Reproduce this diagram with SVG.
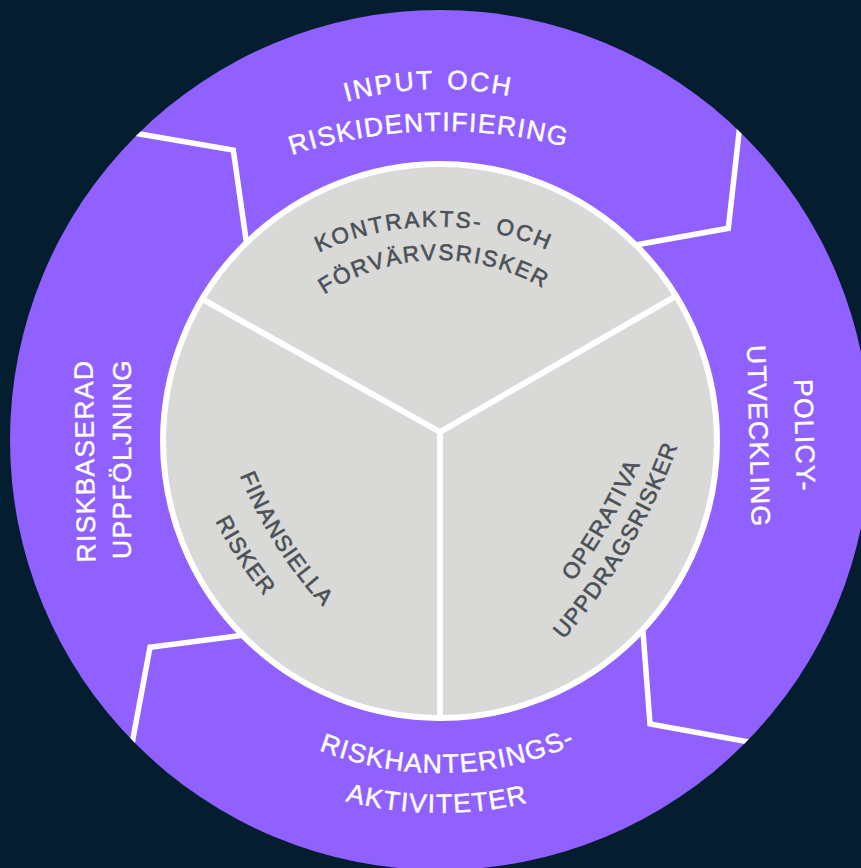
<svg xmlns="http://www.w3.org/2000/svg" width="861" height="868" viewBox="0 0 861 868">
<defs>
<style>
.out{font-family:"Liberation Sans",Arial,sans-serif;font-size:26.5px;fill:#ffffff;stroke:#ffffff;stroke-width:0.45px;letter-spacing:1.3px}
.in{font-family:"Liberation Sans",Arial,sans-serif;font-size:22.5px;fill:#4b5157;stroke:#4b5157;stroke-width:0.6px;letter-spacing:1.2px}
.sep{fill:none;stroke:#ffffff;stroke-width:5.5;stroke-linejoin:miter}
.div{stroke:#ffffff;stroke-width:6;fill:none}
</style>
<clipPath id="ringclip"><circle cx="440" cy="440" r="430"/></clipPath>
<path id="p-input" d="M205.6,178.7 A351,351 0 0 1 656.6,163.8"/>
<path id="p-riskid" d="M188.5,203.3 A484,484 0 0 1 672.3,188.8"/>
<path id="p-kontr" d="M257,292.6 A275.5,275.5 0 0 1 611.2,289.4"/>
<path id="p-forv" d="M288.8,324.6 A207,207 0 0 1 581.5,316.9"/>
<path id="p-riskh" d="M232.2,700.2 A333,333 0 0 0 660.2,689.8"/>
<path id="p-aktiv" d="M250.9,761.5 A373,373 0 0 0 623.9,764.5"/>
<path id="p-finans" d="M211,367.1 A437.8,437.8 0 0 0 409.8,679.2"/>
<path id="p-risker" d="M169.9,380.2 A444.8,444.8 0 0 0 376.3,694.4"/>
<path id="p-oper" d="M457.9,707.3 A684.8,684.8 0 0 0 690,300.4"/>
<path id="p-uppdr" d="M473.7,724.2 A616.8,616.8 0 0 0 708.1,325.9"/>
</defs>
<rect width="861" height="868" fill="#041e2f"/>
<g id="outer-ring">
<circle cx="440" cy="440" r="430" fill="#9061ff"/>
</g>
<g id="connectors">
<g clip-path="url(#ringclip)">
<polyline class="sep" points="125,131.5 233.3,150 247.5,250"/>
<polyline class="sep" points="741,115 728.3,228.3 630,246"/>
<polyline class="sep" points="245,635 150,647.3 129,760"/>
<polyline class="sep" points="642.5,625 650,724 765,745"/>
</g>
</g>
<g id="inner-circle">
<circle cx="440" cy="441" r="277" fill="#d9d9d7"/>
</g>
<g id="dividers">
<line class="div" x1="440" y1="432" x2="202.2" y2="299"/>
<line class="div" x1="440" y1="432" x2="676" y2="296"/>
<line class="div" x1="440" y1="432" x2="440" y2="718"/>
<circle cx="440" cy="441" r="277" fill="none" stroke="#ffffff" stroke-width="6"/>
</g>
<g id="input-riskidentifiering">
<text class="out" text-anchor="middle" style="letter-spacing:2px" word-spacing="3"><textPath href="#p-input" startOffset="50%">INPUT OCH</textPath></text>
<text class="out" text-anchor="middle"><textPath href="#p-riskid" startOffset="50%">RISKIDENTIFIERING</textPath></text>
</g>
<g id="policyutveckling">
<text class="out" text-anchor="middle" transform="translate(795.5,435.5) rotate(88.5)">POLICY-</text>
<text class="out" text-anchor="middle" transform="translate(749.5,436.5) rotate(88.5)">UTVECKLING</text>
</g>
<g id="riskhanteringsaktiviteter">
<text class="out" text-anchor="middle"><textPath href="#p-riskh" startOffset="50%">RISKHANTERINGS-</textPath></text>
<text class="out" text-anchor="middle"><textPath href="#p-aktiv" startOffset="50%">AKTIVITETER</textPath></text>
</g>
<g id="riskbaserad-uppfoljning">
<text class="out" text-anchor="middle" transform="translate(94,461) rotate(-90.8)">RISKBASERAD</text>
<text class="out" text-anchor="middle" transform="translate(131,459) rotate(-90)">UPPFÖLJNING</text>
</g>
<g id="kontrakts-forvarvsrisker">
<text class="in" text-anchor="middle" style="letter-spacing:2.2px" word-spacing="5"><textPath href="#p-kontr" startOffset="50%">KONTRAKTS- OCH</textPath></text>
<text class="in" text-anchor="middle" style="letter-spacing:1.8px"><textPath href="#p-forv" startOffset="50%">FÖRVÄRVSRISKER</textPath></text>
</g>
<g id="finansiella-risker">
<text class="in" text-anchor="middle"><textPath href="#p-finans" startOffset="50%">FINANSIELLA</textPath></text>
<text class="in" text-anchor="middle"><textPath href="#p-risker" startOffset="50%">RISKER</textPath></text>
</g>
<g id="operativa-uppdragsrisker">
<text class="in" text-anchor="middle"><textPath href="#p-oper" startOffset="50%">OPERATIVA</textPath></text>
<text class="in" text-anchor="middle"><textPath href="#p-uppdr" startOffset="50%">UPPDRAGSRISKER</textPath></text>
</g>
</svg>
